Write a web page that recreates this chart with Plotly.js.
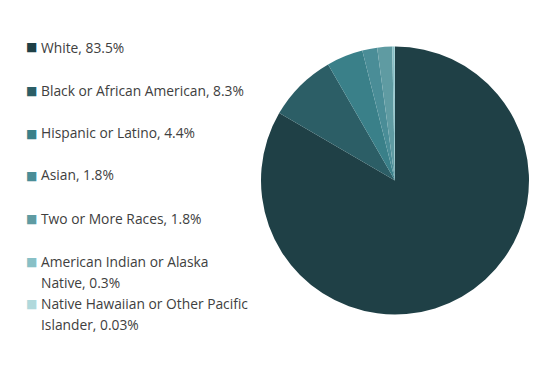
<!DOCTYPE html>
<html><head><meta charset="utf-8">
<script src="https://cdn.plot.ly/plotly-3.0.1.min.js"></script>
<style>html,body{margin:0;padding:0;background:#fff}#chart{width:556px;height:365px}</style>
</head><body><div id="chart"></div>
<script>
const labels = ["White", "Black or African American", "Hispanic or Latino", "Asian", "Two or More Races", "American Indian or Alaska Native", "Native Hawaiian or Other Pacific Islander"];
const legendText = ["White, 83.5%", "Black or African American, 8.3%", "Hispanic or Latino, 4.4%", "Asian, 1.8%", "Two or More Races, 1.8%", "American Indian or Alaska<br>Native, 0.3%", "Native Hawaiian or Other Pacific<br>Islander, 0.03%"];
const values = [83.5, 8.3, 4.4, 1.8, 1.8, 0.3, 0.03];
const colors = ["#1f4046", "#2c5e66", "#3a8089", "#4a8d97", "#5f9ba2", "#88c0c6", "#b0d9dc"];

const W = 556, H = 365;
const rowY = [47, 90, 133, 175, 218, 261, 303];
const lineGap = 21;
const annotations = [];
legendText.forEach((t, i) => {
  annotations.push({xref: 'paper', yref: 'paper', x: 31.5 / W, y: 1 - (rowY[i] + 0.5) / H, xanchor: 'center', yanchor: 'middle',
    text: '■', showarrow: false, font: {family: 'DejaVu Sans', size: 12, color: colors[i]}});
  t.split('<br>').forEach((line, k) => {
    annotations.push({xref: 'paper', yref: 'paper', x: 39 / W, y: 1 - (rowY[i] + k * lineGap) / H, xanchor: 'left', yanchor: 'middle', align: 'left',
      text: line, showarrow: false, font: {family: 'Open Sans', size: 13.8, color: '#404040'}});
  });
});

const data = [{
  type: 'pie', labels: labels, values: values, sort: false, direction: 'clockwise', rotation: 0,
  marker: {colors: colors, line: {width: 0}}, textinfo: 'none', hoverinfo: 'label+percent',
  domain: {x: [261 / W, 529 / W], y: [1 - 315 / H, 1 - 46 / H]}, showlegend: false
}];
const layout = {width: W, height: H, margin: {l: 0, r: 0, t: 0, b: 0}, paper_bgcolor: '#fff',
  showlegend: false, annotations: annotations};
Plotly.newPlot('chart', data, layout, {displayModeBar: false, staticPlot: true});
</script></body></html>
